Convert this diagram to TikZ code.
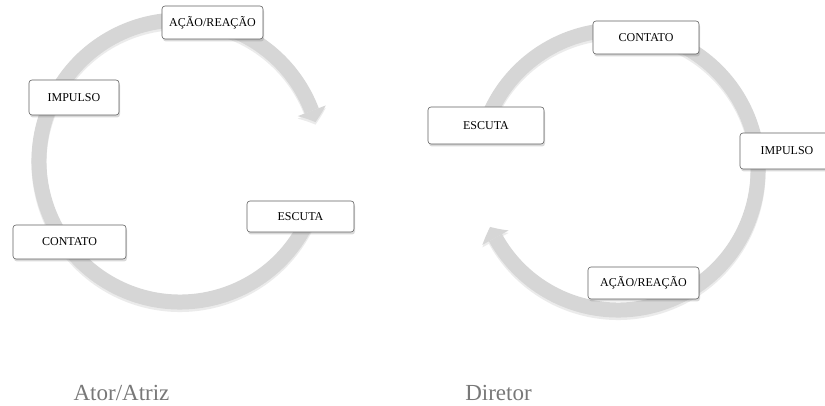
\documentclass[tikz,border=0pt]{standalone}
\usepackage{fontspec}
\newfontfamily\capfont{Liberation Serif}
\usepackage{tikz}
\usetikzlibrary{arrows.meta,shadows,bending}
\definecolor{ringgray}{gray}{0.84}
\definecolor{boxline}{gray}{0.38}
\definecolor{capgray}{gray}{0.47}
\tikzset{
  stage/.style={draw=boxline, fill=white, rounded corners=3pt, line width=0.6pt,
                align=center, inner sep=0pt, font=\capfont\fontsize{12}{14}\selectfont,
                drop shadow={shadow xshift=1pt, shadow yshift=-2.5pt, opacity=0.3}},
  cycle/.style={draw=ringgray, line width=15pt,
                -{Triangle[width=30pt, length=12pt, line width=0pt, bend]}},
  cycleshadow/.style={cycle, draw=black, opacity=0.08},
  cyclename/.style={font=\capfont\fontsize{23}{26}\selectfont, text=capgray, anchor=base}
}

\begin{document}
\begin{tikzpicture}[x=1pt, y=1pt]
\useasboundingbox (0,0) rectangle (825,406);
\coordinate (lc) at (180,245);
\coordinate (rc) at (618,236);
% rings
\draw[cycleshadow, transform canvas={yshift=-2.5pt}] ([shift={(-25:141)}]lc) arc[start angle=-25, end angle=-344, radius=141];
\draw[cycle] ([shift={(-25:141)}]lc) arc[start angle=-25, end angle=-344, radius=141];
\draw[cycleshadow, transform canvas={yshift=-2.5pt}] ([shift={(165:140)}]rc) arc[start angle=165, end angle=-156, radius=140];
\draw[cycle] ([shift={(165:140)}]rc) arc[start angle=165, end angle=-156, radius=140];
% Ator/Atriz
\node[stage, minimum width=101pt, minimum height=33pt] (lact) at (212.5,383.5) {AÇÃO/REAÇÃO};
\node[stage, minimum width=90pt, minimum height=35pt] (limp) at (74,308.5) {IMPULSO};
\node[stage, minimum width=113pt, minimum height=34pt] (lcon) at (69.5,164) {CONTATO};
\node[stage, minimum width=107pt, minimum height=31pt] (lesc) at (300.5,189.5) {ESCUTA};
% Diretor
\node[stage, minimum width=106pt, minimum height=33pt] (rcon) at (646,368.5) {CONTATO};
\node[stage, minimum width=116pt, minimum height=37pt] (resc) at (486,280.5) {ESCUTA};
\node[stage, minimum width=94pt, minimum height=36pt] (rimp) at (787,255) {IMPULSO};
\node[stage, minimum width=111pt, minimum height=32pt] (ract) at (643.5,123) {AÇÃO/REAÇÃO};
% captions
\node[cyclename] (lname) at (121.5,5) {Ator/Atriz};
\node[cyclename] (rname) at (498.5,5) {Diretor};
\end{tikzpicture}
\end{document}
